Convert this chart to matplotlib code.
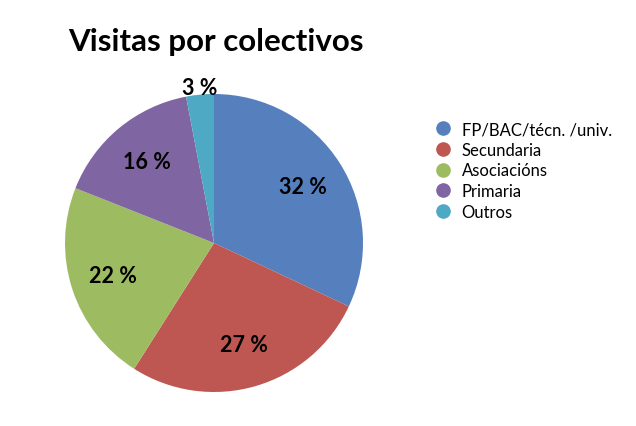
import matplotlib
matplotlib.use("Agg")
import matplotlib.pyplot as plt
import numpy as np
from matplotlib.lines import Line2D

categories = ["FP/BAC/técn. /univ.", "Secundaria", "Asociacións", "Primaria", "Outros"]
values = [32, 27, 22, 16, 3]
colors = ["#5580BD", "#BE5752", "#9DBB61", "#7F65A1", "#4DA9C4"]

plt.rcParams['font.family'] = ['Lato', 'DejaVu Sans']

fig = plt.figure(figsize=(6.36, 4.27), dpi=100)
W, H = 636, 427
cx, cy, R = 214, 244, 149
ax = fig.add_axes([(cx - R) / W, (H - cy - R) / H, 2 * R / W, 2 * R / H])
wedges, _ = ax.pie(values, colors=colors, startangle=90, counterclock=False,
                   radius=1.0, wedgeprops=dict(linewidth=0))
ax.set_xlim(-1, 1)
ax.set_ylim(-1, 1)
ax.set_aspect('equal')

for w, v in zip(wedges, values):
    ang = np.deg2rad((w.theta1 + w.theta2) / 2)
    r = 1.05 if v < 5 else 0.71
    ax.text(r * np.cos(ang), r * np.sin(ang), f"{v} %", ha='center', va='center',
            fontsize=15.5, fontweight='bold', color='black', clip_on=False)

fig.text(68 / W, 1 - 42 / H, "Visitas por colectivos", fontsize=22.5, fontweight='bold',
         ha='left', va='center')

handles = [Line2D([0], [0], marker='o', linestyle='', markersize=9.5,
                  markerfacecolor=c, markeredgecolor=c) for c in colors]
fig.legend(handles, categories, loc='upper left', bbox_to_anchor=(435 / W, 1 - 122 / H),
           frameon=False, fontsize=12, handletextpad=0.6, labelspacing=0.28,
           handlelength=1.0, borderpad=0, borderaxespad=0)

fig.savefig("out.png", dpi=100)
